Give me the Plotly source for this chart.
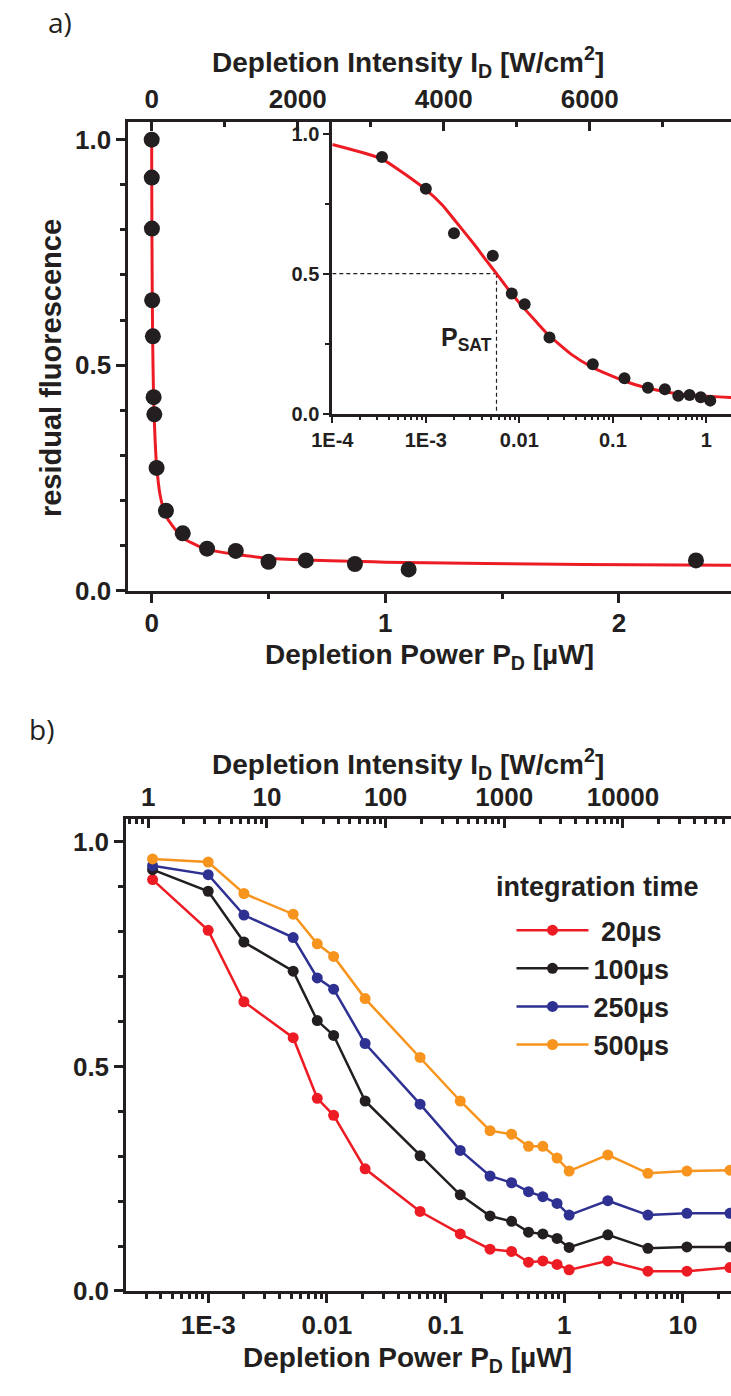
import math
import plotly.graph_objects as go

W, H = 731, 1396

# ---------------- data ----------------
power_uW = [3.4e-4, 1.0e-3, 2.0e-3, 5.2e-3, 8.3e-3, 0.0114, 0.021, 0.061, 0.133, 0.237,
            0.36, 0.50, 0.66, 0.87, 1.1, 2.33, 5.07, 10.8, 24.9]
res_20us = [0.916, 0.803, 0.644, 0.564, 0.429, 0.391, 0.272, 0.177, 0.127, 0.093,
            0.088, 0.064, 0.067, 0.059, 0.047, 0.067, 0.044, 0.044, 0.052]
res_100us = [0.938, 0.890, 0.777, 0.712, 0.602, 0.569, 0.423, 0.301, 0.214, 0.167,
             0.155, 0.131, 0.127, 0.117, 0.097, 0.125, 0.095, 0.098, 0.098]
res_250us = [0.947, 0.927, 0.837, 0.787, 0.697, 0.672, 0.551, 0.416, 0.313, 0.256,
             0.241, 0.221, 0.210, 0.195, 0.169, 0.201, 0.169, 0.173, 0.173]
res_500us = [0.962, 0.955, 0.885, 0.839, 0.773, 0.745, 0.651, 0.520, 0.423, 0.357,
             0.349, 0.322, 0.322, 0.296, 0.267, 0.303, 0.262, 0.267, 0.269]

zero_power_uW = [0.0]
zero_power_resid = [1.0]

# fitted saturation curve
fit_power_uW = [0.0, 1.0e-4, 3.4e-4, 1.0e-3, 1.5e-3, 2.0e-3, 3.3e-3, 4.3e-3, 5.7e-3, 7.5e-3,
                0.0101, 0.015, 0.0204, 0.036, 0.061, 0.13, 0.232, 0.49, 1.0, 1.85, 2.5]
fit_resid = [1.0, 0.961, 0.909, 0.800, 0.745, 0.694, 0.604, 0.553, 0.5, 0.447,
             0.394, 0.330, 0.282, 0.212, 0.165, 0.118, 0.092, 0.072, 0.063, 0.058, 0.056]
P_SAT_uW = 5.7e-3
HALF_LEVEL = 0.5
I_PER_P = 3200.0  # W/cm^2 per uW

series_names = ["\u00a020µs", "100µs", "250µs", "500µs"]
series_values = [res_20us, res_100us, res_250us, res_500us]
series_colors = ["#ED1C24", "#231F20", "#2E3192", "#F7941D"]

# tick labels
y_tickvals = [0.0, 0.5, 1.0]
y_ticktext = ["0.0", "0.5", "1.0"]
pa_bottom_ticks = [0, 1, 2]
pa_top_ticks = [0, 2000, 4000, 6000]
inset_x_tickvals = [1e-4, 1e-3, 0.01, 0.1, 1]
inset_x_ticktext = ["1E-4", "1E-3", "0.01", "0.1", "1"]
pb_x_tickvals = [1e-3, 0.01, 0.1, 1, 10]
pb_x_ticktext = ["1E-3", "0.01", "0.1", "1", "10"]
pb_top_tickvals = [1, 10, 100, 1000, 10000]
pb_top_ticktext = ["1", "10", "100", "1000", "10000"]

# ---------------- helpers ----------------
INK = "#231F20"
FONT = "Liberation Sans"


def fx(px):
    return px / W


def fy(py):
    return 1 - py / H


log_minor = [m * 10 ** e for e in range(-5, 6) for m in range(2, 10)]

tick_font = dict(family=FONT, size=26, color=INK, weight="bold")
inset_tick_font = dict(family=FONT, size=20, color=INK, weight="bold")


def base_axis(**kw):
    d = dict(showline=True, linewidth=3, linecolor=INK, showgrid=False, zeroline=False,
             ticks="outside", ticklen=9, tickwidth=2.5, tickcolor=INK, tickfont=tick_font,
             mirror=False)
    d.update(kw)
    return d


fig = go.Figure()

# ---------------- panel a (main) ----------------
fig.add_trace(go.Scatter(x=fit_power_uW, y=fit_resid, mode="lines",
                         line=dict(color="#ED1C24", width=3, shape="spline", smoothing=0.5),
                         xaxis="x", yaxis="y", showlegend=False, hoverinfo="skip"))
fig.add_trace(go.Scatter(x=zero_power_uW + power_uW, y=zero_power_resid + res_20us, mode="markers",
                         marker=dict(color=INK, size=16), xaxis="x", yaxis="y", showlegend=False))
fig.add_trace(go.Scatter(x=[], y=[], xaxis="x2", yaxis="y", showlegend=False))

# ---------------- inset ----------------
fig.add_trace(go.Scatter(x=[inset_x_tickvals[0], P_SAT_uW], y=[HALF_LEVEL, HALF_LEVEL], mode="lines",
                         line=dict(color=INK, width=1.2, dash="4px,3px"), xaxis="x3", yaxis="y3", showlegend=False))
fig.add_trace(go.Scatter(x=[P_SAT_uW, P_SAT_uW], y=[HALF_LEVEL, 0], mode="lines",
                         line=dict(color=INK, width=1.2, dash="4px,3px"), xaxis="x3", yaxis="y3", showlegend=False))
fig.add_trace(go.Scatter(x=fit_power_uW[1:], y=fit_resid[1:], mode="lines",
                         line=dict(color="#ED1C24", width=3, shape="spline", smoothing=0.5),
                         xaxis="x3", yaxis="y3", showlegend=False))
fig.add_trace(go.Scatter(x=power_uW, y=res_20us, mode="markers", marker=dict(color=INK, size=12),
                         xaxis="x3", yaxis="y3", showlegend=False))

# ---------------- panel b ----------------
for name, vals, col in zip(series_names, series_values, series_colors):
    fig.add_trace(go.Scatter(x=power_uW, y=vals, mode="lines+markers", name=name,
                             line=dict(color=col, width=2.5), marker=dict(color=col, size=11),
                             xaxis="x4", yaxis="y4"))
fig.add_trace(go.Scatter(x=[], y=[], xaxis="x5", yaxis="y4", showlegend=False))

# ---------------- layout ----------------
pa_x_left = 110.5
pa_top_px, pa_bottom_px = 123, 597
pa_yrange = [0, 1.04]
pa_xrange = [-0.1, 2.48]

inset_left = 320.5
inset_bottom_px = 418.3
inset_yrange = [0, 1.04]
inset_top_px = inset_bottom_px - (inset_bottom_px - 135) * inset_yrange[1]
inset_xrange = [-4, 0.263]

pb_left = 108.4
pb_top_px, pb_bottom_px = 828.3, 1305
pb_yrange = [0, 1.05]
pb_xrange = [-3.69, 1.405]
lgI = math.log10(I_PER_P)


def minor_lin(d, inside=False):
    return dict(ticks="inside" if inside else "outside", ticklen=5, tickwidth=2.5,
                tickcolor=INK, dtick=d, tick0=0)


layout = dict(
    width=W, height=H, margin=dict(l=0, r=0, t=0, b=0),
    paper_bgcolor="white", plot_bgcolor="rgba(0,0,0,0)",
    font=dict(family=FONT, color=INK),
    xaxis=base_axis(domain=[fx(pa_x_left), 1], range=pa_xrange, anchor="y",
                    tickvals=pa_bottom_ticks, ticktext=[str(v) for v in pa_bottom_ticks],
                    ticklabelstandoff=-2, minor=minor_lin(0.5)),
    yaxis=base_axis(domain=[fy(pa_bottom_px), fy(pa_top_px)], range=pa_yrange, anchor="x",
                    tickvals=y_tickvals, ticktext=y_ticktext, minor=minor_lin(0.1)),
    xaxis2=base_axis(overlaying="x", side="top", anchor="y",
                     range=[pa_xrange[0] * I_PER_P, pa_xrange[1] * I_PER_P], ticks="inside",
                     tickvals=pa_top_ticks, ticktext=[str(v) for v in pa_top_ticks],
                     minor=minor_lin(1000, inside=True)),
    xaxis3=base_axis(domain=[fx(inset_left), 1], type="log", range=inset_xrange, anchor="y3",
                     tickvals=inset_x_tickvals, ticktext=inset_x_ticktext, tickfont=inset_tick_font,
                     ticklen=6, tickwidth=2,
                     minor=dict(ticks="outside", ticklen=3.5, tickwidth=2, tickcolor=INK, tickvals=log_minor)),
    yaxis3=base_axis(domain=[fy(inset_bottom_px), fy(inset_top_px)], range=inset_yrange, anchor="x3",
                     tickvals=y_tickvals, ticktext=y_ticktext, tickfont=inset_tick_font, ticklen=6, tickwidth=2,
                     minor=dict(ticks="outside", ticklen=4, tickwidth=2, tickcolor=INK, dtick=0.25, tick0=0)),
    xaxis4=base_axis(domain=[fx(pb_left), 1], type="log", range=pb_xrange, anchor="y4",
                     tickvals=pb_x_tickvals, ticktext=pb_x_ticktext,
                     minor=dict(ticks="outside", ticklen=5, tickwidth=2.5, tickcolor=INK, tickvals=log_minor)),
    yaxis4=base_axis(domain=[fy(pb_bottom_px), fy(pb_top_px)], range=pb_yrange, anchor="x4",
                     tickvals=y_tickvals, ticktext=y_ticktext, minor=minor_lin(0.1)),
    xaxis5=base_axis(overlaying="x4", side="top", anchor="y4", type="log",
                     range=[pb_xrange[0] + lgI, pb_xrange[1] + lgI], ticks="inside",
                     tickvals=pb_top_tickvals, ticktext=pb_top_ticktext,
                     minor=dict(ticks="inside", ticklen=5, tickwidth=2.5, tickcolor=INK, tickvals=log_minor)),
    showlegend=True,
    legend=dict(x=fx(505), y=fy(916), xanchor="left", yanchor="top", bgcolor="rgba(0,0,0,0)",
                font=dict(family=FONT, size=27, color=INK, weight="bold"), itemwidth=72,
                tracegroupgap=0),
)
fig.update_layout(**layout)


def ann(text, px, py, size=28, weight="bold", family=FONT, angle=0, xanchor="center", yanchor="middle"):
    fig.add_annotation(text=text, x=fx(px), y=fy(py), xref="paper", yref="paper", showarrow=False,
                       xanchor=xanchor, yanchor=yanchor, textangle=angle,
                       font=dict(family=family, size=size, color=INK, weight=weight))


ann("a)", 40, 22, size=28, weight="normal", family="Open Sans")
ann("b)", 21, 737, size=28, weight="normal", family="Open Sans")
ann("Depletion Intensity I<sub>D</sub> [W/cm<sup>2</sup>]", 398, 63)
ann("Depletion Power P<sub>D</sub> [µW]", 421, 664)
ann("Depletion Intensity I<sub>D</sub> [W/cm<sup>2</sup>]", 398, 772)
ann("Depletion Power P<sub>D</sub> [µW]", 398, 1374)
ann("residual fluorescence", 31, 372, size=29, angle=-90)
ann("integration time", 594, 897, size=27)
ann("P<sub>SAT</sub>", 487, 343, size=25, xanchor="right")

fig.write_html("out.html")
